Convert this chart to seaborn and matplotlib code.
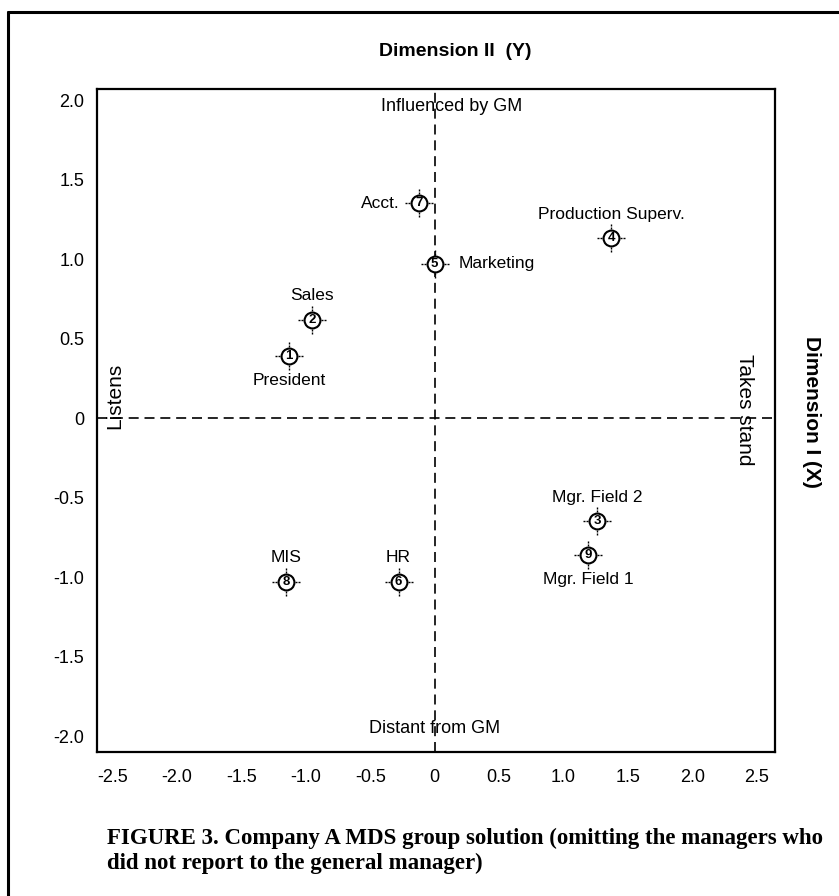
import numpy as np
import pandas as pd
import matplotlib
matplotlib.use("Agg")
import matplotlib.pyplot as plt
from matplotlib.path import Path
from matplotlib.lines import Line2D
import seaborn as sns

# ---- data ----
ids = [1, 2, 3, 4, 5, 6, 7, 8, 9]
names = ["President", "Sales", "Mgr. Field 2", "Production Superv.", "Marketing",
         "HR", "Acct.", "MIS", "Mgr. Field 1"]
dim1_x = [-1.13, -0.95, 1.26, 1.37, 0.00, -0.28, -0.12, -1.15, 1.19]
dim2_y = [0.39, 0.62, -0.65, 1.13, 0.97, -1.03, 1.35, -1.03, -0.86]
label_pos = ["below", "above", "above", "above", "right", "above", "left", "above", "below"]
xticks = [-2.5, -2.0, -1.5, -1.0, -0.5, 0, 0.5, 1.0, 1.5, 2.0, 2.5]
yticks = [2.0, 1.5, 1.0, 0.5, 0, -0.5, -1.0, -1.5, -2.0]
xtick_labels = ["-2.5", "-2.0", "-1.5", "-1.0", "-0.5", "0", "0.5", "1.0", "1.5", "2.0", "2.5"]
ytick_labels = ["2.0", "1.5", "1.0", "0.5", "0", "-0.5", "-1.0", "-1.5", "-2.0"]

df = pd.DataFrame({"id": ids, "name": names, "x": dim1_x, "y": dim2_y, "pos": label_pos})

sns.set_theme(style="white")
plt.rcParams["font.family"] = ["Liberation Sans", "DejaVu Sans"]
plt.rcParams["text.color"] = "black"
plt.rcParams["xtick.color"] = "black"
plt.rcParams["ytick.color"] = "black"

fig = plt.figure(figsize=(8.39, 8.96), dpi=100)
ax = fig.add_axes([97/839, 1-752/896, (775-97)/839, (752-89)/896])

# outer frame (top and left edges)
fig.add_artist(Line2D([8/839, 1.0], [1-12/896, 1-12/896], transform=fig.transFigure, color="black", lw=2.2))
fig.add_artist(Line2D([8/839, 8/839], [1-12/896, 0.0], transform=fig.transFigure, color="black", lw=2.2))

ax.set_xlim(-2.62, 2.64)
ax.set_ylim(-2.1, 2.07)

# dashed quadrant lines
ax.axvline(0, color="black", lw=1.2, ls=(0, (6, 3.5)), zorder=1)
ax.axhline(0, color="black", lw=1.2, ls=(0, (6, 3.5)), zorder=1)

# crosshair marker made of short dash segments
segs = []
codes = []
for dx, dy in [(1, 0), (-1, 0), (0, 1), (0, -1)]:
    for r0, r1 in [(1.15, 1.4), (1.6, 1.8)]:
        segs += [(dx*r0, dy*r0), (dx*r1, dy*r1)]
        codes += [Path.MOVETO, Path.LINETO]
cross = Path(segs, codes)

sns.scatterplot(data=df, x="x", y="y", marker=cross, s=20**2, color="black",
                linewidth=1.0, edgecolor="black", ax=ax, zorder=3, legend=False)
sns.scatterplot(data=df, x="x", y="y", marker="o", s=130, facecolor="white",
                edgecolor="black", linewidth=1.5, ax=ax, zorder=4, legend=False)

for _, r in df.iterrows():
    ax.text(r.x, r.y, str(r.id), ha="center", va="center", fontsize=9.5,
            fontweight="bold", zorder=5, color="black")
    if r.pos == "above":
        ax.annotate(r["name"], (r.x, r.y), xytext=(0, 12), textcoords="offset points",
                    ha="center", va="bottom", fontsize=12.5)
    elif r.pos == "below":
        ax.annotate(r["name"], (r.x, r.y), xytext=(0, -12), textcoords="offset points",
                    ha="center", va="top", fontsize=12.5)
    elif r.pos == "left":
        ax.annotate(r["name"], (r.x, r.y), xytext=(-14, 0), textcoords="offset points",
                    ha="right", va="center", fontsize=12.5)
    else:
        ax.annotate(r["name"], (r.x, r.y), xytext=(17, 0), textcoords="offset points",
                    ha="left", va="center", fontsize=12.5)

# quadrant captions
ax.text(0.13, 1.96, "Influenced by GM", ha="center", va="center", fontsize=13)
ax.text(0.0, -1.95, "Distant from GM", ha="center", va="center", fontsize=13)
ax.text(-2.48, 0.14, "Listens", ha="center", va="center", rotation=90, fontsize=15)
ax.text(2.4, 0.05, "Takes stand", ha="center", va="center", rotation=270, fontsize=15)

ax.set_xticks(xticks)
ax.set_xticklabels(xtick_labels)
ax.set_yticks(yticks)
ax.set_yticklabels(ytick_labels)
ax.tick_params(axis="both", length=0, labelsize=13, colors="black")
ax.tick_params(axis="x", pad=12)
ax.tick_params(axis="y", pad=9)
ax.set_xlabel("")
ax.set_ylabel("")
for sp in ax.spines.values():
    sp.set_color("black")
    sp.set_linewidth(1.6)

fig.text(455/839, 1-52/896, "Dimension II  (Y)", ha="center", va="center",
         fontsize=14, fontweight="bold")
fig.text(812/839, 1-412/896, "Dimension I (X)", ha="center", va="center",
         fontsize=15, fontweight="bold", rotation=270)

cap = ("FIGURE 3. Company A MDS group solution (omitting the managers who\n"
       "did not report to the general manager)")
fig.text(107/839, 1-828/896, cap, ha="left", va="top", fontsize=16.5,
         fontweight="bold", family=["Liberation Serif", "DejaVu Serif"], linespacing=1.2)

fig.savefig("out.png", dpi=100)
